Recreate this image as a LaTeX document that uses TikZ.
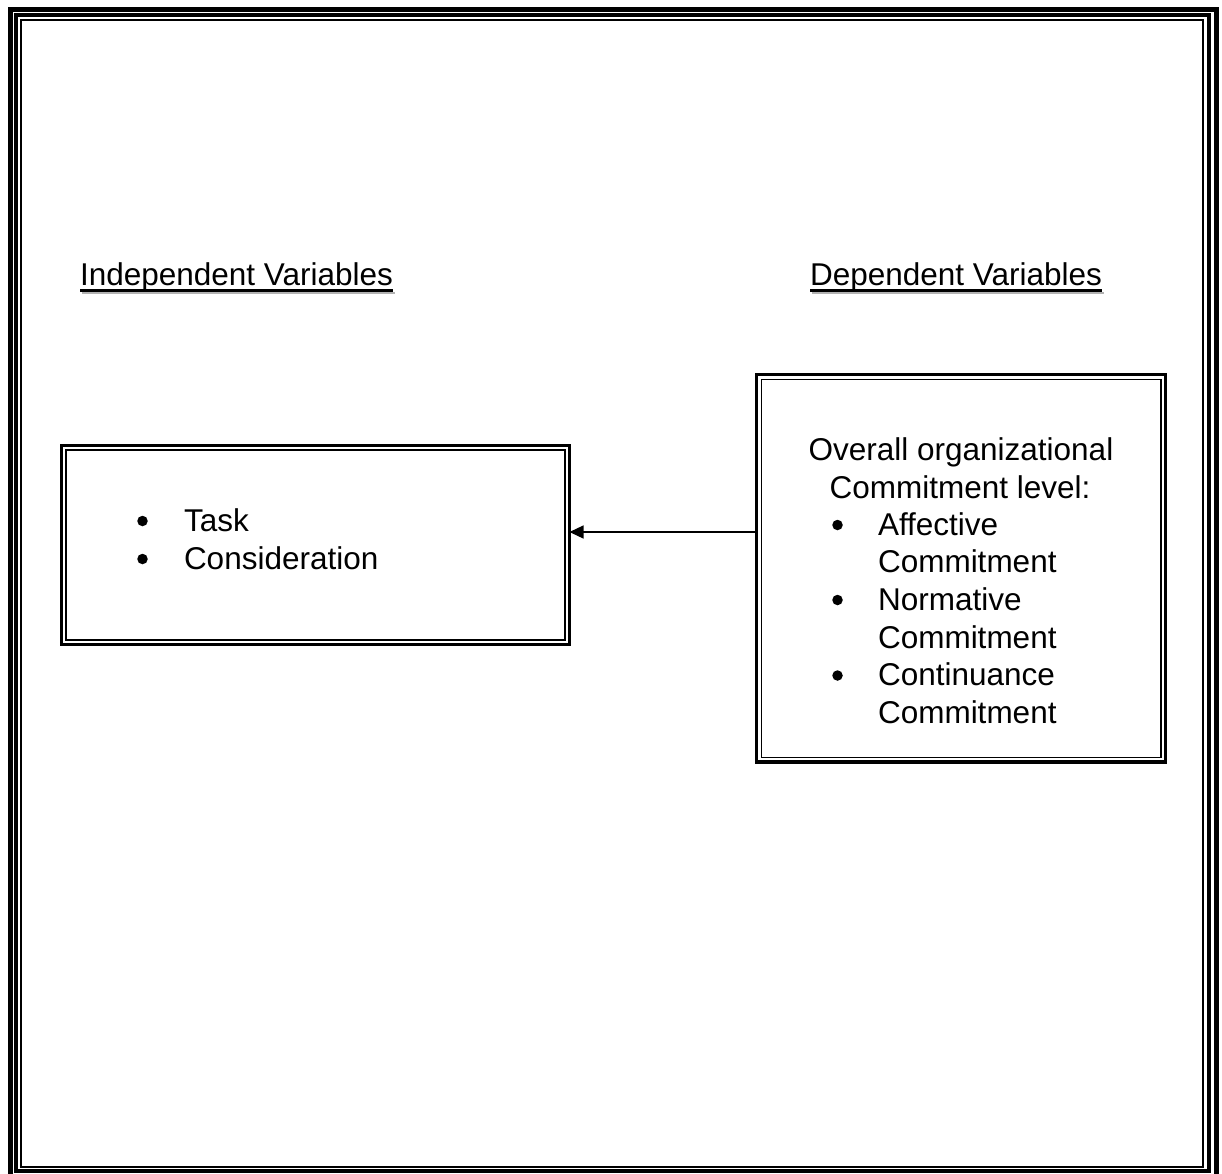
\documentclass[tikz,border=0pt]{standalone}
\usepackage{fontspec}
\setmainfont{Liberation Sans}
\usetikzlibrary{arrows.meta}
\begin{document}
\begin{tikzpicture}[x=1pt,y=1pt,
  txt/.style={font=\fontsize{31.5}{37.6}\selectfont, inner sep=0pt, outer sep=0pt},
  dot/.style={circle, fill=black, draw=none, inner sep=0pt, minimum size=10.5pt},
  boxouter/.style={draw=black, line width=3.5pt, inner sep=0pt, outer sep=0pt},
  boxinner/.style={draw=black, line width=1.5pt},
  uline/.style={line width=2.5pt, line cap=butt},
  conn/.style={line width=1.3pt, -{Triangle[length=14pt,width=13pt]}}]
\useasboundingbox (0,0) rectangle (1222,-1173);
% outer frame
\draw[line width=5pt] (10,-9.5) rectangle (1216,-1177);
\draw[line width=4pt] (16,-15) rectangle (1208.5,-1171);
\draw[line width=2pt] (21,-20) rectangle (1203,-1166.5);
% headings
\node[txt, anchor=base west] (h1) at (80,-285) {Independent Variables};
\draw[uline, black!30] ([shift={(2,-8)}]h1.base west) -- ([shift={(2,-8)}]h1.base east);
\draw[uline] ([yshift=-5.5]h1.base west) -- ([yshift=-5.5]h1.base east);
\node[txt, anchor=base west] (h2) at (810,-285) {Dependent Variables};
\draw[uline, black!30] ([shift={(2,-8)}]h2.base west) -- ([shift={(2,-8)}]h2.base east);
\draw[uline] ([yshift=-5.5]h2.base west) -- ([yshift=-5.5]h2.base east);
% left box
\node[boxouter, minimum width=508pt, minimum height=199pt] (lbox) at (315.5,-545) {};
\draw[boxinner] ([shift={(4.5,-4.5)}]lbox.north west) rectangle ([shift={(-4.5,4.5)}]lbox.south east);
\node[dot] (lb1) at (142.5,-521) {};
\node[txt, anchor=base west] (lt1) at (184,-531) {Task};
\node[dot] (lb2) at (142.5,-559) {};
\node[txt, anchor=base west] (lt2) at (184,-569) {Consideration};
% right box
\node[boxouter, minimum width=409pt, minimum height=387.5pt] (rbox) at (961,-568.25) {};
\draw[boxinner] ([shift={(4.75,-4.75)}]rbox.north west) rectangle ([shift={(-4.75,4.75)}]rbox.south east);
\node[txt, anchor=base] (r1) at (961,-460) {Overall organizational};
\node[txt, anchor=base] (r2) at (960,-498) {Commitment level:};
\node[dot] (rb1) at (837.5,-525) {};
\node[txt, anchor=base west] (r3) at (878,-535) {Affective};
\node[txt, anchor=base west] (r4) at (878,-572.5) {Commitment};
\node[dot] (rb2) at (837.5,-600) {};
\node[txt, anchor=base west] (r5) at (878,-610) {Normative};
\node[txt, anchor=base west] (r6) at (878,-648) {Commitment};
\node[dot] (rb3) at (837.5,-675.5) {};
\node[txt, anchor=base west] (r7) at (878,-685.5) {Continuance};
\node[txt, anchor=base west] (r8) at (878,-723) {Commitment};
% connector
\draw[conn] ([yshift=36.25]rbox.west) -- ([yshift=13]lbox.east);
\end{tikzpicture}
\end{document}
